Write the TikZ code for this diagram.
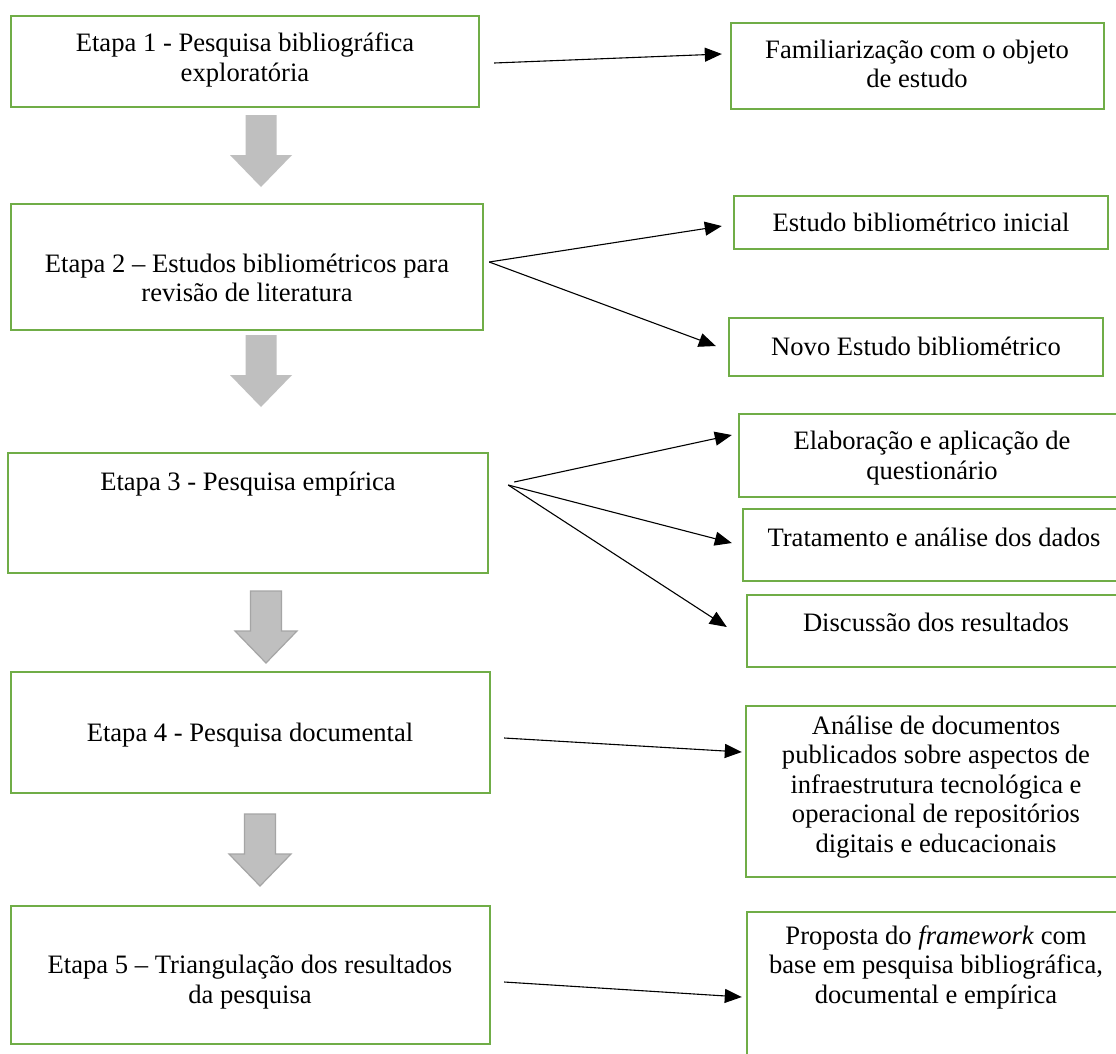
\documentclass[tikz,border=0pt]{standalone}
\usepackage{fontspec}
\setmainfont{Liberation Serif}
\usetikzlibrary{arrows.meta}
\definecolor{boxgreen}{HTML}{70AD47}
\definecolor{arrowgray}{HTML}{BFBFBF}
\definecolor{arrowedge}{HTML}{A5A5A5}

\begin{document}
\begin{tikzpicture}[x=1pt,y=-1pt,
  box/.style={draw=boxgreen, line width=2.4pt, rectangle, inner sep=0pt},
  txt/.style={align=center, font=\fontsize{26.6}{29.5}\selectfont, inner sep=0pt},
  conn/.style={line width=1.1pt, -{Triangle[length=17pt,width=14pt]}},
  flow/.style={fill=arrowgray, draw=none},
  flowedge/.style={fill=arrowgray, draw=arrowedge, line width=1.2pt},
  downarrow/.pic={
    \path[pic actions] (-15.5,-72) -- (15.5,-72) -- (15.5,-32) -- (31,-32)
      -- (0,0) -- (-31,-32) -- (-15.5,-32) -- cycle;
  }
]
\clip (0,0) rectangle (1116,1053);
\fill[white] (0,0) rectangle (1116,1053);

% stages (left column)
\node[box, minimum width=468pt, minimum height=91pt]  (e1) at (245,61.5) {};
\node[box, minimum width=472pt, minimum height=126pt] (e2) at (247,267) {};
\node[box, minimum width=480pt, minimum height=120pt] (e3) at (248,513) {};
\node[box, minimum width=479pt, minimum height=121pt] (e4) at (250.5,732.5) {};
\node[box, minimum width=479pt, minimum height=138pt] (e5) at (250.5,975) {};

\node[txt] (t1) at (245,60)  {Etapa 1 - Pesquisa bibliográfica\\exploratória};
\node[txt] (t2) at (247,278) {Etapa 2 – Estudos bibliométricos para\\revisão de literatura};
\node[txt] (t3) at (248,484) {Etapa 3 - Pesquisa empírica};
\node[txt] (t4) at (250,735) {Etapa 4 - Pesquisa documental};
\node[txt] (t5) at (250,982) {Etapa 5 – Triangulação dos resultados\\da pesquisa};

% outcomes (right column)
\node[box, minimum width=373pt, minimum height=86pt]  (r1)  at (917.5,66) {};
\node[box, minimum width=374pt, minimum height=53pt]  (r2a) at (921,222.5) {};
\node[box, minimum width=374pt, minimum height=58pt]  (r2b) at (916,347) {};
\node[box, minimum width=386pt, minimum height=83pt]  (r3a) at (932,455.5) {};
\node[box, minimum width=382pt, minimum height=72pt]  (r3b) at (934,545) {};
\node[box, minimum width=378pt, minimum height=72pt]  (r3c) at (936,631) {};
\node[box, minimum width=379pt, minimum height=171pt] (r4)  at (935.5,791.5) {};
\node[box, minimum width=378pt, minimum height=158pt] (r5)  at (936,991) {};

\node[txt] (u1)  at (917,64) {Familiarização com o objeto\\de estudo};
\node[txt] (u2a) at (921,222)  {Estudo bibliométrico inicial};
\node[txt] (u2b) at (916,346)  {Novo Estudo bibliométrico};
\node[txt] (u3a) at (932,458)  {Elaboração e aplicação de\\questionário};
\node[txt] (u3b) at (934,537)  {Tratamento e análise dos dados};
\node[txt] (u3c) at (936,622)  {Discussão dos resultados};
\begin{scope}
  \clip (740,700) rectangle (1116,865);
  \node[txt] (u4) at (936,787) {Análise de documentos\\publicados sobre aspectos de\\infraestrutura tecnológica e\\operacional de repositórios\\digitais e educacionais};
\end{scope}
\node[txt] (u5) at (936,967) {Proposta do \textit{framework} com\\base em pesquisa bibliográfica,\\documental e empírica};

% block arrows between stages
\pic[flow]     at (261,187) {downarrow};
\pic[flow]     at (261,407) {downarrow};
\pic[flowedge] at (266,663) {downarrow};
\pic[flowedge] at (260,886) {downarrow};

% connectors
\coordinate (o2)  at ([xshift=5pt,yshift=5pt]e2.east);
\coordinate (o3)  at ([xshift=19pt,yshift=28pt]e3.east);
\coordinate (o3a) at ([xshift=25pt,yshift=31pt]e3.east);

\draw[conn] ([xshift=14pt,yshift=-1.5pt]e1.east) -- ([xshift=-8pt,yshift=12pt]r1.west);
\draw[conn] (o2) -- ([xshift=-11pt,yshift=-3.5pt]r2a.west);
\draw[conn] (o2) -- ([xshift=-12pt,yshift=1pt]r2b.west);
\draw[conn] (o3a) -- ([xshift=-6pt,yshift=20.5pt]r3a.west);
\draw[conn] (o3) -- ([xshift=-10pt,yshift=2pt]r3b.west);
\draw[conn] (o3) -- ([xshift=-19pt,yshift=4pt]r3c.west);
\draw[conn] ([xshift=13pt,yshift=-5.5pt]e4.east) -- ([xshift=-3pt,yshift=39.5pt]r4.west);
\draw[conn] ([xshift=13pt,yshift=-7pt]e5.east) -- ([xshift=-4pt,yshift=-6pt]r5.west);
\end{tikzpicture}
\end{document}
